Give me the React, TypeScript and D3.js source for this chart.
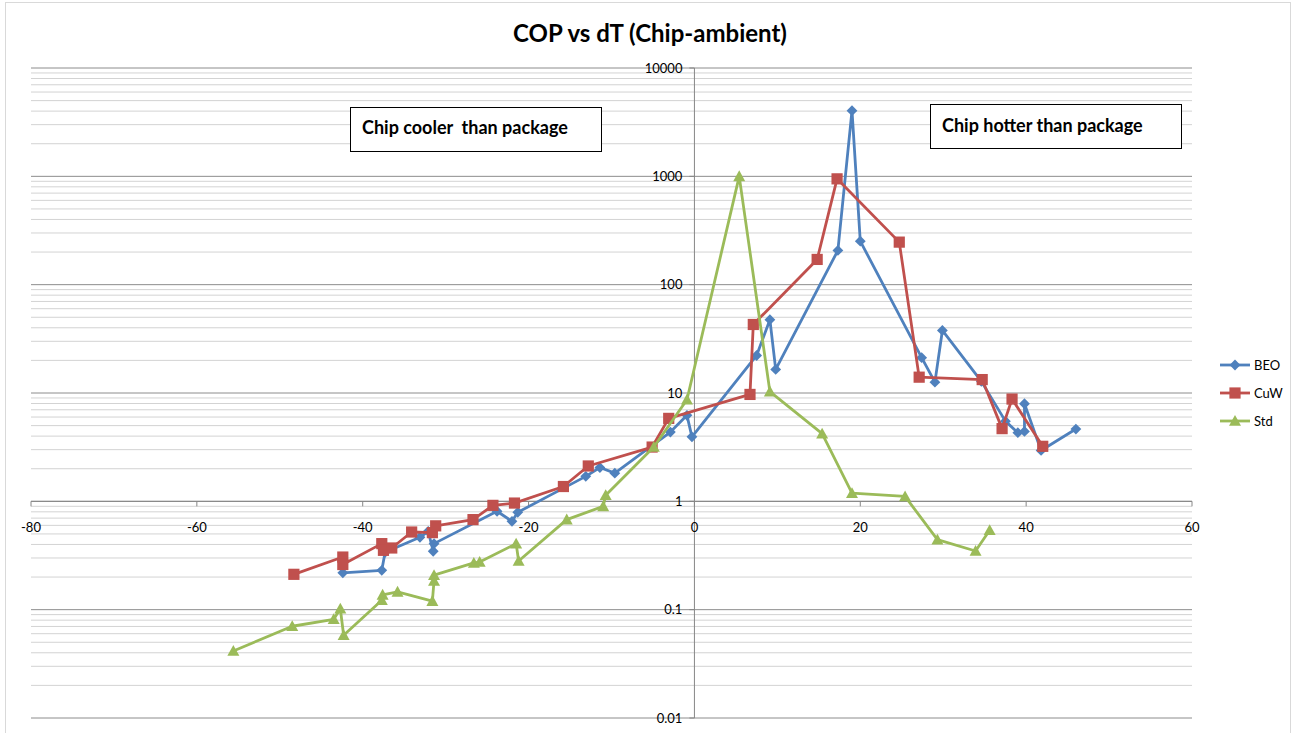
import React from "react";
import * as d3 from "d3";

const beoX = [-42.4, -37.7, -37.3, -33.1, -32.1, -31.5, -31.4, -23.8, -22.0, -21.3, -13.1, -11.4, -9.6, -2.9, -0.9, -0.3, 7.5, 9.1, 9.8, 17.3, 19.0, 20.0, 27.4, 29.0, 29.9, 34.6, 37.5, 39.0, 39.8, 39.8, 41.8, 46.0];
const beoY = [0.219, 0.231, 0.339, 0.466, 0.529, 0.346, 0.407, 0.81, 0.654, 0.792, 1.70, 2.05, 1.82, 4.36, 6.22, 3.94, 22.2, 47.5, 16.5, 207, 4040, 252, 21.2, 12.6, 37.8, 12.8, 5.5, 4.3, 4.42, 7.96, 2.95, 4.65];

const cuwX = [-48.3, -42.4, -42.4, -37.7, -37.5, -36.5, -34.1, -31.6, -31.2, -26.7, -24.3, -21.7, -15.8, -12.8, -5.1, -3.1, 6.7, 7.1, 14.8, 17.2, 24.7, 27.1, 34.7, 37.1, 38.3, 42.0];
const cuwY = [0.212, 0.306, 0.261, 0.407, 0.353, 0.371, 0.521, 0.514, 0.594, 0.678, 0.918, 0.964, 1.37, 2.12, 3.17, 5.83, 9.7, 42.9, 171, 948, 247, 14.0, 13.3, 4.69, 8.79, 3.22];

const stdX = [-55.6, -48.5, -43.5, -42.7, -42.3, -37.7, -37.6, -35.8, -31.6, -31.4, -31.4, -26.6, -25.9, -21.5, -21.2, -15.4, -11.0, -10.7, -4.9, -0.9, 5.4, 9.1, 15.4, 19.0, 25.4, 29.3, 33.9, 35.6];
const stdY = [0.0416, 0.0703, 0.0815, 0.102, 0.058, 0.122, 0.137, 0.146, 0.120, 0.184, 0.208, 0.270, 0.275, 0.407, 0.281, 0.678, 0.899, 1.14, 3.17, 8.67, 1000, 10.3, 4.21, 1.19, 1.11, 0.443, 0.348, 0.540];

const seriesNames = ["BEO", "CuW", "Std"];
const xTicks = [-80, -60, -40, -20, 0, 20, 40, 60];
const yTicks = [0.01, 0.1, 1, 10, 100, 1000, 10000];
const yTickLabels = ["0.01", "0.1", "1", "10", "100", "1000", "10000"];
const title = "COP vs dT (Chip-ambient)";
const noteLeft = "Chip cooler  than package";
const noteRight = "Chip hotter than package";

const colors = ["#4F81BD", "#C0504D", "#9BBB59"];
const FONT = "Lato, Carlito, 'Liberation Sans', sans-serif";

function Marker({ kind, x, y, color }: { kind: number; x: number; y: number; color: string }) {
  if (kind === 0) {
    const s = 5.4;
    return <path d={`M${x},${y - s}L${x + s},${y}L${x},${y + s}L${x - s},${y}Z`} fill={color} />;
  }
  if (kind === 1) {
    const s = 5.6;
    return <rect x={x - s} y={y - s} width={2 * s} height={2 * s} fill={color} />;
  }
  const s = 6;
  return <path d={`M${x},${y - s}L${x + s},${y + s * 0.8}L${x - s},${y + s * 0.8}Z`} fill={color} />;
}

export default function App() {
  const W = 1296, H = 733;
  const x = d3.scaleLinear().domain([-80, 60]).range([31, 1192]);
  const y = d3.scaleLog().domain([0.01, 10000]).range([718, 68]);

  const series = [
    beoX.map((v, i) => [v, beoY[i]] as [number, number]),
    cuwX.map((v, i) => [v, cuwY[i]] as [number, number]),
    stdX.map((v, i) => [v, stdY[i]] as [number, number]),
  ];
  const line = d3.line<[number, number]>().x(d => x(d[0])).y(d => y(d[1]));

  const grid: { v: number; major: boolean }[] = [];
  for (let e = -2; e <= 3; e++) {
    for (let k = 1; k <= 9; k++) grid.push({ v: k * Math.pow(10, e), major: k === 1 });
  }
  grid.push({ v: 10000, major: true });

  const x0 = x(0), y1 = y(1);

  return (
    <svg width={W} height={H} style={{ position: "absolute", left: 0, top: 0, background: "#fff" }} fontFamily={FONT}>
      <rect x={5.5} y={2.5} width={1285} height={740} fill="#fff" stroke="#d9d9d9" />
      <text x={650} y={42} textAnchor="middle" fontSize={24} fontWeight="bold" fill="#000">{title}</text>

      {grid.filter(g => !g.major).map((g, i) => (
        <line key={"m" + i} x1={31} x2={1192} y1={y(g.v)} y2={y(g.v)} stroke="#d3d3d3" strokeWidth={1} />
      ))}
      {grid.filter(g => g.major).map((g, i) => (
        <line key={"M" + i} x1={31} x2={1192} y1={y(g.v)} y2={y(g.v)} stroke="#8c8c8c" strokeWidth={1} />
      ))}

      {/* axes */}
      <line x1={x0} x2={x0} y1={68} y2={718} stroke="#868686" strokeWidth={1} />
      <line x1={31} x2={1192} y1={y1} y2={y1} stroke="#868686" strokeWidth={1} />
      {xTicks.map(t => (
        <line key={"xt" + t} x1={x(t)} x2={x(t)} y1={y1} y2={y1 + 5} stroke="#868686" />
      ))}
      {yTicks.map(t => (
        <line key={"yt" + t} x1={x0 - 5} x2={x0} y1={y(t)} y2={y(t)} stroke="#868686" />
      ))}
      {xTicks.map(t => (
        <text key={"xl" + t} x={x(t)} y={y1 + 31} textAnchor="middle" fontSize={13} fill="#000">{String(t)}</text>
      ))}
      {yTicks.map((t, i) => (
        <text key={"yl" + t} x={x0 - 12} y={y(t) + 4.5} textAnchor="end" fontSize={13} fill="#000">{yTickLabels[i]}</text>
      ))}

      {/* series */}
      {series.map((s, si) => (
        <g key={"s" + si}>
          <path d={line(s) || ""} fill="none" stroke={colors[si]} strokeWidth={2.8} strokeLinejoin="round" />
          {s.map((d, i) => (
            <Marker key={i} kind={si} x={x(d[0])} y={y(d[1])} color={colors[si]} />
          ))}
        </g>
      ))}

      {/* annotation boxes */}
      <rect x={350.5} y={107.5} width={251} height={44} fill="#fff" stroke="#000" strokeWidth={1} />
      <text x={362} y={134} fontSize={18} fontWeight="bold" fill="#000" style={{ whiteSpace: "pre" }}>{noteLeft}</text>
      <rect x={930.5} y={104.5} width={251} height={44} fill="#fff" stroke="#000" strokeWidth={1} />
      <text x={942} y={132} fontSize={18} fontWeight="bold" fill="#000">{noteRight}</text>

      {/* legend */}
      {seriesNames.map((n, i) => {
        const ly = 365 + i * 28;
        return (
          <g key={"lg" + n}>
            <line x1={1220} x2={1250} y1={ly} y2={ly} stroke={colors[i]} strokeWidth={2.8} />
            <Marker kind={i} x={1235} y={ly} color={colors[i]} />
            <text x={1254} y={ly + 4.5} fontSize={13} fill="#000">{n}</text>
          </g>
        );
      })}
    </svg>
  );
}
